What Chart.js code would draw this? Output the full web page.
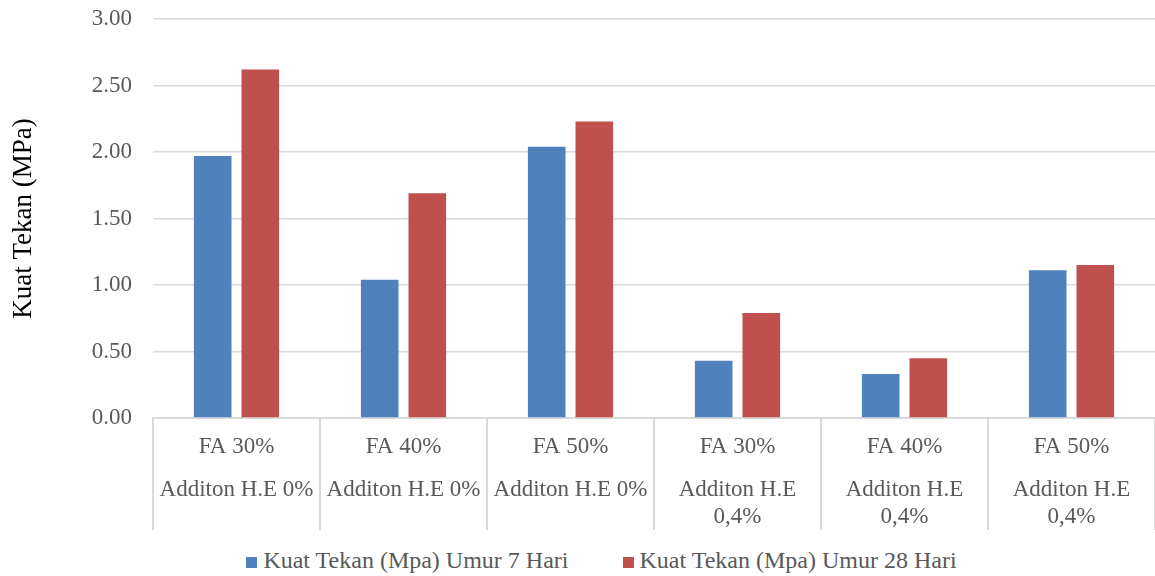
<!DOCTYPE html>
<html lang="id">
<head>
    <meta charset="UTF-8">
    <title>Kuat Tekan</title>
    <script src="https://cdn.jsdelivr.net/npm/chart.js"></script>
    <style>
        body {
            margin: 0;
            background: #fff;
        }

        #chartBox {
            width: 1155px;
            height: 540px;
        }

        /* legend sits below the canvas */
        #legend {
            display: flex;
            justify-content: center;
            gap: 54px;
            padding-left: 48px;
            padding-top: 4px;
            height: 32px;
            align-items: center;
            font-family: "Liberation Serif", "Times New Roman", serif;
            font-size: 24px;
            color: #595959;
        }

        #legend span.box {
            display: inline-block;
            width: 11px;
            height: 11px;
            margin-right: 6px;
        }
    </style>
</head>
<body>
    <div id="chartBox">
        <canvas id="kuatChart" width="1155" height="540"></canvas>
    </div>
    <div id="legend"></div>

    <script>
        const faLabels = ['FA 30%', 'FA 40%', 'FA 50%', 'FA 30%', 'FA 40%', 'FA 50%'];
        const heLabels = [
            'Additon H.E 0%', 'Additon H.E 0%', 'Additon H.E 0%',
            ['Additon H.E', '0,4%'], ['Additon H.E', '0,4%'], ['Additon H.E', '0,4%']
        ];
        const umur7 = [1.97, 1.04, 2.04, 0.43, 0.33, 1.11];
        const umur28 = [2.62, 1.69, 2.23, 0.79, 0.45, 1.15];
        const yTicks = [0, 0.5, 1, 1.5, 2, 2.5, 3];

        const serif = '"Liberation Serif", "Times New Roman", serif';
        const gridGray = '#d9d9d9';

        const datasets = [
            {
                label: 'Kuat Tekan (Mpa) Umur 7 Hari',
                data: umur7,
                backgroundColor: '#4f81bd'
            },
            {
                label: 'Kuat Tekan (Mpa) Umur 28 Hari',
                data: umur28,
                backgroundColor: '#c0504d'
            }
        ];

        const ctx = document.getElementById('kuatChart').getContext('2d');
        const chart = new Chart(ctx, {
            type: 'bar',
            data: {
                labels: faLabels,
                datasets: datasets
            },
            options: {
                responsive: false,
                animation: false,
                categoryPercentage: 0.57,
                barPercentage: 0.79,
                layout: {
                    padding: { top: 19, right: 0, bottom: 10, left: 0 }
                },
                plugins: {
                    legend: { display: false },
                    tooltip: { enabled: false }
                },
                scales: {
                    x: {
                        offset: true,
                        grid: {
                            offset: true,
                            drawOnChartArea: false,
                            drawTicks: true,
                            tickLength: 43,
                            color: gridGray,
                            lineWidth: 2
                        },
                        border: { color: gridGray, width: 2 },
                        ticks: {
                            padding: -28,
                            maxRotation: 0,
                            minRotation: 0,
                            autoSkip: false,
                            color: '#595959',
                            font: { family: serif, size: 23, lineHeight: 1.2 }
                        },
                        afterFit: (scale) => { scale.height = 43; }
                    },
                    x2: {
                        type: 'category',
                        position: 'bottom',
                        labels: heLabels,
                        offset: true,
                        grid: {
                            offset: true,
                            drawOnChartArea: false,
                            drawTicks: true,
                            tickLength: 69,
                            color: gridGray,
                            lineWidth: 2
                        },
                        border: { display: false },
                        ticks: {
                            padding: -54,
                            maxRotation: 0,
                            minRotation: 0,
                            autoSkip: false,
                            color: '#595959',
                            font: { family: serif, size: 23, lineHeight: 1.2 }
                        },
                        afterFit: (scale) => { scale.height = 69; }
                    },
                    y: {
                        min: 0,
                        max: 3,
                        afterBuildTicks: (scale) => {
                            scale.ticks = yTicks.map(v => ({ value: v }));
                        },
                        grid: {
                            drawTicks: true,
                            tickLength: 21,
                            tickColor: 'transparent',
                            color: gridGray,
                            lineWidth: 1.5
                        },
                        border: { display: false },
                        ticks: {
                            padding: 0,
                            color: '#595959',
                            font: { family: serif, size: 23 },
                            callback: (v) => Number(v).toFixed(2)
                        },
                        title: {
                            display: true,
                            text: 'Kuat Tekan (MPa)',
                            color: '#000',
                            font: { family: serif, size: 27, lineHeight: 1.2 },
                            padding: { top: 8, bottom: 0 }
                        },
                        afterFit: (scale) => { scale.width = 153; }
                    }
                }
            }
        });

        // legend built from the datasets
        const legendDiv = document.getElementById('legend');
        chart.data.datasets.forEach(ds => {
            const item = document.createElement('div');
            item.innerHTML = `<span class="box" style="background:${ds.backgroundColor}"></span>${ds.label}`;
            legendDiv.appendChild(item);
        });
    </script>
</body>
</html>
